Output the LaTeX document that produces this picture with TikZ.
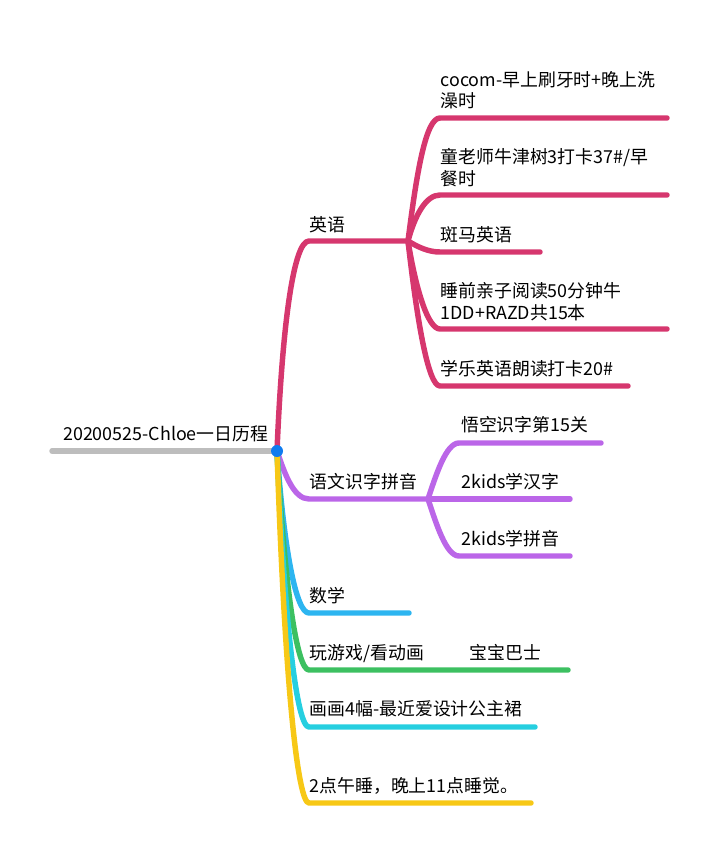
\documentclass[tikz,border=0pt]{standalone}
\usepackage{fontspec}
\setmainfont{Noto Sans CJK SC}
\definecolor{trunk}{HTML}{BDBDBD}
\definecolor{rosered}{HTML}{D6376E}
\definecolor{violet}{HTML}{BB66E8}
\definecolor{skyblue}{HTML}{2DB5F0}
\definecolor{leaf}{HTML}{3CC061}
\definecolor{aqua}{HTML}{26CFE0}
\definecolor{amber}{HTML}{F7C816}
\definecolor{dotblue}{HTML}{0F7BEF}
\tikzset{every path/.style={line width=4.1pt,line cap=round,line join=round},
   lbl/.style={inner sep=0pt,anchor=base west,align=left,font=\fontsize{13.4}{16.5}\selectfont}}

\begin{document}
\begin{tikzpicture}[x=0.75pt,y=-0.75pt]
   \useasboundingbox (0,0) rectangle (719,856);
   \coordinate (root) at (277,451);
   \coordinate (rootL) at (52,451);
   \draw[trunk] (rootL) -- (root);
   \node[lbl] (title) at (60.5,440) {20200525-Chloe一日历程};
   \begin{scope}[rosered]
    \coordinate (yy) at (309,241);
    \coordinate (hub) at (408,241);
    \draw (root) .. controls (282,330) and (293,241) .. (yy) -- (hub);
    \node[lbl,black] (yyT) at (307,231) {英语};
    \coordinate (a) at (440,118); \coordinate (aE) at (667,118);
    \coordinate (b) at (440,195); \coordinate (bE) at (667,195);
    \coordinate (c) at (440,252); \coordinate (cE) at (540,252);
    \coordinate (d) at (440,329); \coordinate (dE) at (667,329);
    \coordinate (e) at (440,386); \coordinate (eE) at (628,386);
    \draw (hub) .. controls (417,170) and (426,118) .. (a) -- (aE);
    \draw (hub) .. controls (415,215) and (426,195) .. (b) -- (bE);
    \draw (hub) .. controls (418,247) and (428,252) .. (c) -- (cE);
    \draw (hub) .. controls (416,290) and (428,329) .. (d) -- (dE);
    \draw (hub) .. controls (417,320) and (428,386) .. (e) -- (eE);
    \node[lbl,black] (aT) at (438,108) {cocom-早上刷牙时+晚上洗\\澡时};
    \node[lbl,black] (bT) at (438,185) {童老师牛津树3打卡37\#/早\\餐时};
    \node[lbl,black] (cT) at (438,241) {斑马英语};
    \node[lbl,black] (dT) at (438,319) {睡前亲子阅读50分钟牛\\1DD+RAZD共15本};
    \node[lbl,black] (eT) at (438,375) {学乐英语朗读打卡20\#};
   \end{scope}
   \begin{scope}[violet]
    \coordinate (yw) at (309,499);
    \coordinate (hubB) at (428,499);
    \draw (root) .. controls (285,475) and (294,499) .. (yw) -- (hubB);
    \node[lbl,black] (ywT) at (307,488) {语文识字拼音};
    \coordinate (f) at (459,443); \coordinate (fE) at (601,443);
    \coordinate (gE) at (570,499);
    \coordinate (h) at (459,556); \coordinate (hE) at (570,556);
    \draw (hubB) .. controls (436,475) and (446,443) .. (f) -- (fE);
    \draw (hubB) -- (gE);
    \draw (hubB) .. controls (436,523) and (446,556) .. (h) -- (hE);
    \node[lbl,black] (fT) at (458.5,431) {悟空识字第15关};
    \node[lbl,black] (gT) at (459,488) {2kids学汉字};
    \node[lbl,black] (hT) at (459,545) {2kids学拼音};
   \end{scope}
   \begin{scope}[skyblue]
    \coordinate (sx) at (309,613); \coordinate (sxE) at (409,613);
    \draw (root) .. controls (284,550) and (296,613) .. (sx) -- (sxE);
    \node[lbl,black] (sxT) at (307,602) {数学};
   \end{scope}
   \begin{scope}[leaf]
    \coordinate (yx) at (309,670); \coordinate (yxE) at (568,670);
    \draw (root) .. controls (285,590) and (297,670) .. (yx) -- (yxE);
    \node[lbl,black] (yxT) at (307,659) {玩游戏/看动画};
    \node[lbl,black] (bbT) at (467,659) {宝宝巴士};
   \end{scope}
   \begin{scope}[aqua]
    \coordinate (hh) at (309,727); \coordinate (hhE) at (535,727);
    \draw (root) .. controls (285,630) and (297,727) .. (hh) -- (hhE);
    \node[lbl,black] (hhT) at (307,715) {画画4幅-最近爱设计公主裙};
   \end{scope}
   \begin{scope}[amber]
    \coordinate (sj) at (309,803); \coordinate (sjE) at (531,803);
    \draw (root) .. controls (285,690) and (298,803) .. (sj) -- (sjE);
    \node[lbl,black] (sjT) at (307,792) {2点午睡，晚上11点睡觉。};
   \end{scope}
   \fill[dotblue] (root) circle (6);
  \end{tikzpicture}
\end{document}
